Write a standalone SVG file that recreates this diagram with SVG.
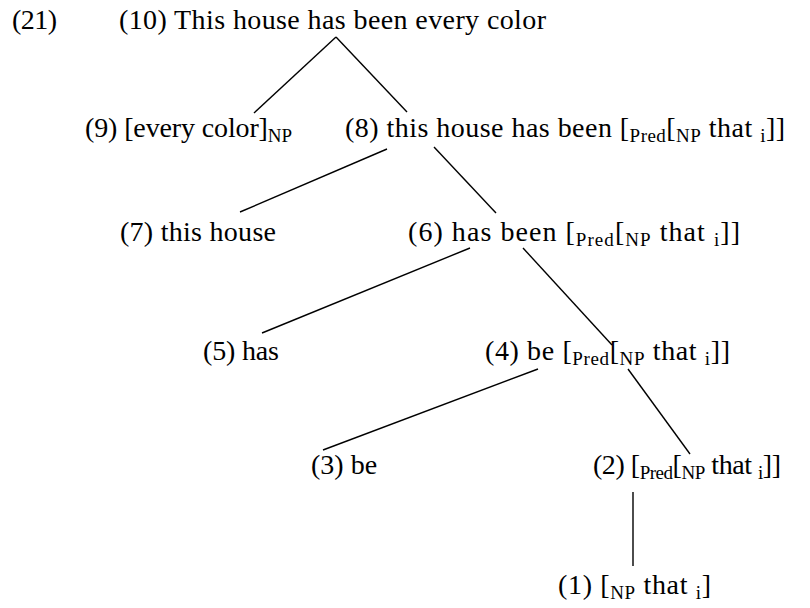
<svg xmlns="http://www.w3.org/2000/svg" width="810" height="608" viewBox="0 0 810 608">
<style>
text { font-family: "Liberation Serif", "Times New Roman", serif; font-size: 28px; fill: #000; }
.s { font-size: 19px; }
#edges line { stroke: #000; stroke-width: 1.4; }
</style>
<rect width="810" height="608" fill="#fff"/>
<text id="label" x="12" y="29" textLength="45">(21)</text>
<g id="edges">
<line x1="336" y1="37" x2="254" y2="113"/>
<line x1="336" y1="37" x2="407" y2="112"/>
<line x1="387" y1="149" x2="240" y2="212"/>
<line x1="434" y1="147" x2="496" y2="213"/>
<line x1="470" y1="248" x2="262" y2="333"/>
<line x1="523" y1="248" x2="612" y2="345"/>
<line x1="538" y1="369" x2="323" y2="450"/>
<line x1="628" y1="369" x2="690" y2="454"/>
<line x1="633" y1="492" x2="633" y2="566"/>
</g>
<g id="n10"><text x="119" y="29" textLength="427">(10) This house has been every color</text></g>
<g id="n9"><text x="85" y="137" textLength="207">(9) [every color]<tspan class="s" dy="5">NP</tspan></text></g>
<g id="n8"><text x="345" y="137" textLength="440">(8) this house has been [<tspan class="s" dy="5">Pred</tspan><tspan dy="-5">[</tspan><tspan class="s" dy="5">NP</tspan><tspan dy="-5"> that </tspan><tspan class="s" dy="5">i</tspan><tspan dy="-5">]]</tspan></text></g>
<g id="n7"><text x="120" y="241" textLength="156">(7) this house</text></g>
<g id="n6"><text x="408" y="241" textLength="332">(6) has been [<tspan class="s" dy="5">Pred</tspan><tspan dy="-5">[</tspan><tspan class="s" dy="5">NP</tspan><tspan dy="-5"> that </tspan><tspan class="s" dy="5">i</tspan><tspan dy="-5">]]</tspan></text></g>
<g id="n5"><text x="203" y="360" textLength="76">(5) has</text></g>
<g id="n4"><text x="485" y="360" textLength="245">(4) be [<tspan class="s" dy="5">Pred</tspan><tspan dy="-5">[</tspan><tspan class="s" dy="5">NP</tspan><tspan dy="-5"> that </tspan><tspan class="s" dy="5">i</tspan><tspan dy="-5">]]</tspan></text></g>
<g id="n3"><text x="311" y="474">(3) be</text></g>
<g id="n2"><text x="593" y="474" textLength="188">(2) [<tspan class="s" dy="5">Pred</tspan><tspan dy="-5">[</tspan><tspan class="s" dy="5">NP</tspan><tspan dy="-5"> that </tspan><tspan class="s" dy="5">i</tspan><tspan dy="-5">]]</tspan></text></g>
<g id="n1"><text x="558" y="594" textLength="153">(1) [<tspan class="s" dy="5">NP</tspan><tspan dy="-5"> that </tspan><tspan class="s" dy="5">i</tspan><tspan dy="-5">]</tspan></text></g>
</svg>
